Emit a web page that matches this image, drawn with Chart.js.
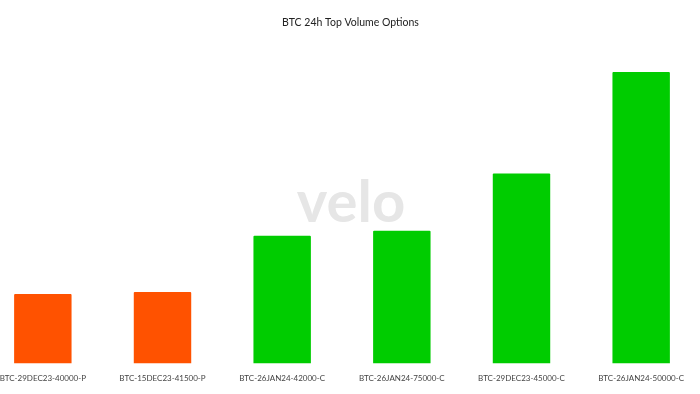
<!DOCTYPE html>
<html>
<head>
<meta charset="utf-8">
<script src="https://cdn.jsdelivr.net/npm/chart.js@4.4.1/dist/chart.umd.min.js"></script>
<style>
  html, body { margin: 0; padding: 0; background: #ffffff; overflow: hidden; }
  #wrap { position: absolute; left: -17px; top: 0; width: 718px; height: 395px; }
</style>
</head>
<body>
<div id="wrap"><canvas id="c"></canvas></div>
<script>
const categories = [
  "BTC-29DEC23-40000-P",
  "BTC-15DEC23-41500-P",
  "BTC-26JAN24-42000-C",
  "BTC-26JAN24-75000-C",
  "BTC-29DEC23-45000-C",
  "BTC-26JAN24-50000-C"
];
const volumes = [690, 710, 1270, 1320, 1890, 2900];
const barColors = ["#ff5200", "#ff5200", "#00cc00", "#00cc00", "#00cc00", "#00cc00"];
const chartTitle = "BTC 24h Top Volume Options";
const watermark = "velo";

// canvas is shifted 17px left of the window; page centre is at canvas x = 17 + 350
const overlayPlugin = {
  id: "overlay",
  beforeDatasetsDraw(chart) {
    const ctx = chart.ctx;
    ctx.save();
    ctx.font = "bold 58px Lato, 'Noto Sans', sans-serif";
    ctx.fillStyle = "#e6e6e6";
    ctx.textAlign = "center";
    ctx.textBaseline = "middle";
    ctx.fillText(watermark, 17 + 351, 203);
    ctx.font = "10.5px Lato, 'Noto Sans', sans-serif";
    ctx.fillStyle = "#222222";
    ctx.fillText(chartTitle, 17 + 350.5, 23);
    ctx.restore();
  }
};

new Chart(document.getElementById("c"), {
  type: "bar",
  data: {
    labels: categories,
    datasets: [{
      data: volumes,
      backgroundColor: barColors,
      borderRadius: 1,
      barPercentage: 0.8,
      categoryPercentage: 0.6
    }]
  },
  options: {
    responsive: true,
    maintainAspectRatio: false,
    animation: false,
    layout: { padding: { top: 49, bottom: 2, left: 0, right: 0 } },
    plugins: {
      legend: { display: false },
      tooltip: { enabled: false },
      title: { display: false }
    },
    scales: {
      x: {
        grid: { display: false, drawTicks: false },
        border: { display: false },
        ticks: {
          color: "#444444",
          font: { family: "Lato, 'Noto Sans', sans-serif", size: 8 },
          maxRotation: 0,
          autoSkip: false,
          padding: 10
        }
      },
      y: {
        display: false,
        min: 0,
        max: 3130
      }
    }
  },
  plugins: [overlayPlugin]
});
</script>
</body>
</html>
